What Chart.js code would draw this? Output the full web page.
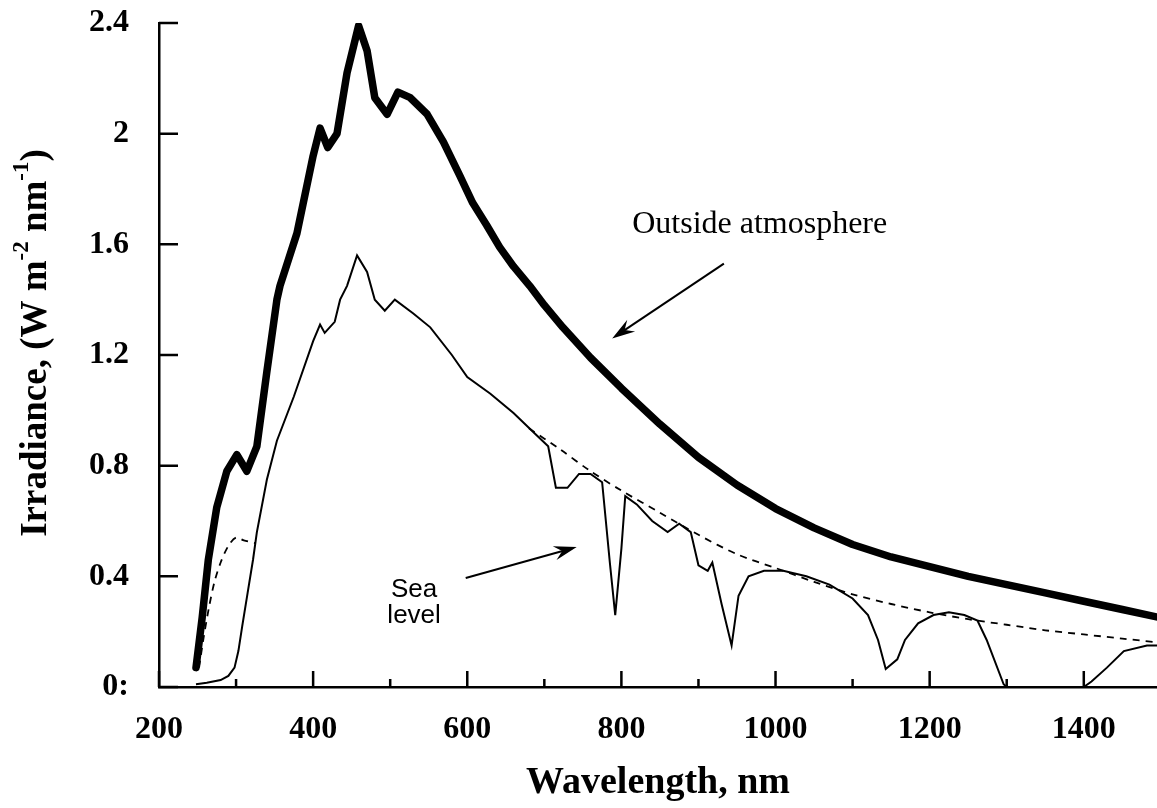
<!DOCTYPE html>
<html>
<head>
<meta charset="utf-8">
<title>Solar irradiance</title>
<script src="https://cdn.jsdelivr.net/npm/chart.js@4.4.0/dist/chart.umd.min.js"></script>
<style>
	html, body { margin: 0; padding: 0; background: #fff; }
	#spectrum { display: block; }
</style>
</head>
<body>
<canvas id="spectrum" width="1157" height="808"></canvas>
<script>
// outside the atmosphere (thick curve)
var toaWavelength = [248, 256, 264, 275, 288, 301, 314, 327, 340, 353, 357, 379, 400, 409, 419, 431, 444, 459, 470, 480, 496, 510, 526, 548, 569, 590, 607, 625, 642, 660, 681, 700, 724, 760, 800, 850, 900, 950, 1000, 1050, 1100, 1150, 1200, 1250, 1300, 1350, 1400, 1450, 1500];
var toaIrradiance = [0.07, 0.25, 0.46, 0.65, 0.78, 0.84, 0.78, 0.87, 1.14, 1.40, 1.45, 1.64, 1.92, 2.02, 1.95, 2.00, 2.22, 2.39, 2.30, 2.13, 2.07, 2.15, 2.13, 2.07, 1.97, 1.85, 1.75, 1.67, 1.59, 1.52, 1.45, 1.38, 1.30, 1.19, 1.08, 0.95, 0.83, 0.73, 0.645, 0.575, 0.515, 0.47, 0.435, 0.40, 0.37, 0.34, 0.31, 0.28, 0.25];

// sea level (thin curve, with absorption bands)
var seaWavelength = [248, 262, 280, 290, 298, 303, 308, 315, 322, 327, 340, 353, 375, 400, 409, 415, 428, 435, 444, 457, 470, 480, 493, 506, 530, 552, 580, 600, 630, 660, 690, 705, 715, 730, 745, 760, 775, 785, 792, 800, 805, 820, 840, 860, 875, 890, 900, 912, 918, 930, 943, 952, 965, 985, 1010, 1040, 1070, 1100, 1120, 1133, 1143, 1158, 1168, 1185, 1205, 1225, 1245, 1262, 1274, 1296, 1300, 1400, 1410, 1430, 1452, 1482, 1500];
var seaIrradiance = [0.01, 0.015, 0.025, 0.04, 0.07, 0.13, 0.22, 0.34, 0.46, 0.56, 0.75, 0.89, 1.05, 1.25, 1.31, 1.28, 1.32, 1.40, 1.45, 1.56, 1.50, 1.40, 1.36, 1.40, 1.35, 1.30, 1.20, 1.12, 1.06, 0.99, 0.91, 0.87, 0.72, 0.72, 0.77, 0.77, 0.74, 0.45, 0.26, 0.50, 0.69, 0.66, 0.60, 0.56, 0.59, 0.56, 0.44, 0.42, 0.45, 0.30, 0.15, 0.33, 0.40, 0.42, 0.42, 0.40, 0.37, 0.32, 0.26, 0.17, 0.065, 0.10, 0.17, 0.23, 0.26, 0.27, 0.26, 0.24, 0.17, 0.01, 0, 0, 0.02, 0.07, 0.13, 0.15, 0.15];

// sea level without absorption bands (dashed); null breaks it where it runs under the thin curve
var clearWavelength = [252, 258, 265, 272, 280, 290, 300, 310, 325, 500, 680, 720, 760, 800, 850, 900, 950, 1000, 1050, 1100, 1150, 1200, 1250, 1300, 1350, 1400, 1450, 1500];
var clearIrradiance = [0.07, 0.18, 0.29, 0.38, 0.45, 0.51, 0.54, 0.53, 0.52, null, 0.935, 0.86, 0.78, 0.71, 0.63, 0.55, 0.48, 0.43, 0.38, 0.335, 0.30, 0.27, 0.245, 0.225, 0.205, 0.19, 0.175, 0.16];

var xMajorTicks = [200, 400, 600, 800, 1000, 1200, 1400];
var xMinorTicks = [300, 500, 700, 900, 1100, 1300];
var yTicks = [0, 0.4, 0.8, 1.2, 1.6, 2, 2.4];
var yTickLabels = ['0:', '0.4', '0.8', '1.2', '1.6', '2', '2.4'];

function toPoints(xs, ys) {
	return xs.map(function (x, i) { return { x: x, y: ys[i] }; });
}

var serif = '"Liberation Serif", "Times New Roman", serif';
var sans = '"Liberation Sans", Arial, sans-serif';

// ticks point into the plot, so they are drawn here instead of by the scales
var inwardTicks = {
	id: 'inwardTicks',
	afterDatasetsDraw: function (chart) {
		var ctx = chart.ctx, xs = chart.scales.x, ys = chart.scales.y;
		ctx.save();
		ctx.strokeStyle = '#000';
		ctx.lineWidth = 2.5;
		ctx.beginPath();
		xMajorTicks.forEach(function (v) {
			var px = xs.getPixelForValue(v);
			ctx.moveTo(px, ys.bottom);
			ctx.lineTo(px, ys.bottom - 16);
		});
		xMinorTicks.forEach(function (v) {
			var px = xs.getPixelForValue(v);
			ctx.moveTo(px, ys.bottom);
			ctx.lineTo(px, ys.bottom - 8);
		});
		yTicks.forEach(function (v) {
			var py = ys.getPixelForValue(v);
			ctx.moveTo(xs.left, py);
			ctx.lineTo(xs.left + 19, py);
		});
		ctx.stroke();
		ctx.restore();
	}
};

// y title with superscripts
var yTitle = {
	id: 'yTitle',
	afterDraw: function (chart) {
		var ctx = chart.ctx, ys = chart.scales.y;
		var big = 'bold 37px ' + serif, small = 'bold 23px ' + serif;
		var parts = [
			{ t: 'Irradiance, (W m', f: big, dy: 0 },
			{ t: '-2', f: small, dy: -14 },
			{ t: ' nm', f: big, dy: 0 },
			{ t: '-1', f: small, dy: -14 },
			{ t: ')', f: big, dy: 0 }
		];
		ctx.save();
		var total = 0;
		parts.forEach(function (p) { ctx.font = p.f; p.w = ctx.measureText(p.t).width; total += p.w; });
		ctx.translate(36, (ys.top + ys.bottom) / 2 - 12);
		ctx.rotate(-Math.PI / 2);
		ctx.fillStyle = '#000';
		ctx.textBaseline = 'middle';
		var x = -total / 2;
		parts.forEach(function (p) {
			ctx.font = p.f;
			ctx.fillText(p.t, x, p.dy);
			x += p.w;
		});
		ctx.restore();
	}
};

// labels and arrows, placed in data units
var notes = [
	{ text: ['Outside atmosphere'], at: [814, 1.67], font: '32px ' + serif, align: 'left', lineGap: 0 },
	{ text: ['Sea', 'level'], at: [531, 0.35], font: '26px ' + sans, align: 'center', lineGap: 26 }
];
var arrows = [
	{ from: [933, 1.53], to: [788, 1.26] },
	{ from: [598, 0.394], to: [742, 0.506] }
];

function drawArrow(ctx, x1, y1, x2, y2) {
	var a = Math.atan2(y2 - y1, x2 - x1);
	var len = 24, wing = 0.3;
	ctx.beginPath();
	ctx.moveTo(x1, y1);
	ctx.lineTo(x2 - Math.cos(a) * 10, y2 - Math.sin(a) * 10);
	ctx.stroke();
	ctx.beginPath();
	ctx.moveTo(x2, y2);
	ctx.lineTo(x2 - len * Math.cos(a - wing), y2 - len * Math.sin(a - wing));
	ctx.lineTo(x2 - 15 * Math.cos(a), y2 - 15 * Math.sin(a));
	ctx.lineTo(x2 - len * Math.cos(a + wing), y2 - len * Math.sin(a + wing));
	ctx.closePath();
	ctx.fill();
}

var annotations = {
	id: 'annotations',
	afterDraw: function (chart) {
		var ctx = chart.ctx, xs = chart.scales.x, ys = chart.scales.y;
		ctx.save();
		ctx.fillStyle = '#000';
		ctx.strokeStyle = '#000';
		ctx.lineWidth = 2;
		notes.forEach(function (n) {
			ctx.font = n.font;
			ctx.textAlign = n.align;
			ctx.textBaseline = 'middle';
			var px = xs.getPixelForValue(n.at[0]), py = ys.getPixelForValue(n.at[1]);
			n.text.forEach(function (line, i) { ctx.fillText(line, px, py + i * n.lineGap); });
		});
		arrows.forEach(function (a) {
			drawArrow(ctx,
				xs.getPixelForValue(a.from[0]), ys.getPixelForValue(a.from[1]),
				xs.getPixelForValue(a.to[0]), ys.getPixelForValue(a.to[1]));
		});
		ctx.restore();
	}
};

var spectrum = document.getElementById('spectrum').getContext('2d');
var spectrumConfig = {
	type: 'line',
	data: {
		datasets: [{
			label: 'Outside atmosphere',
			data: toPoints(toaWavelength, toaIrradiance),
			borderColor: '#000',
			borderWidth: 7.5,
			borderJoinStyle: 'round',
			borderCapStyle: 'round',
			pointRadius: 0,
			tension: 0
		}, {
			label: 'Sea level',
			data: toPoints(seaWavelength, seaIrradiance),
			borderColor: '#000',
			borderWidth: 2,
			pointRadius: 0,
			tension: 0
		}, {
			label: 'Sea level, no absorption',
			data: toPoints(clearWavelength, clearIrradiance),
			borderColor: '#000',
			borderWidth: 1.8,
			borderDash: [7, 6],
			pointRadius: 0,
			spanGaps: false,
			tension: 0.3
		}]
	},
	options: {
		responsive: false,
		animation: false,
		devicePixelRatio: 1,
		layout: { padding: { top: 23, right: 0, bottom: 0, left: 0 } },
		plugins: {
			legend: { display: false },
			tooltip: { enabled: false }
		},
		scales: {
			x: {
				type: 'linear',
				min: 200,
				max: 1495,
				afterBuildTicks: function (axis) {
					axis.ticks = xMajorTicks.map(function (v) { return { value: v }; });
				},
				afterFit: function (axis) {
					axis.height = 121;
					axis.paddingLeft = 0;
					axis.paddingRight = 0;
				},
				grid: { display: true, drawOnChartArea: false, drawTicks: false },
				border: { display: true, color: '#000', width: 2.5 },
				ticks: {
					padding: 24,
					maxRotation: 0,
					color: '#000',
					font: { family: serif, size: 32, weight: 'bold' },
					callback: function (v) { return String(v); }
				},
				title: {
					display: true,
					text: 'Wavelength, nm',
					color: '#000',
					font: { family: serif, size: 38, weight: 'bold' },
					padding: { top: 0, bottom: 2 }
				}
			},
			y: {
				min: 0,
				max: 2.4,
				afterBuildTicks: function (axis) {
					axis.ticks = yTicks.map(function (v) { return { value: v }; });
				},
				afterFit: function (axis) {
					axis.width = 159;
					axis.paddingTop = 0;
					axis.paddingBottom = 0;
				},
				grid: { display: true, drawOnChartArea: false, drawTicks: false },
				border: { display: true, color: '#000', width: 2.5 },
				ticks: {
					padding: 30,
					color: '#000',
					font: { family: serif, size: 32, weight: 'bold' },
					callback: function (v, i) { return yTickLabels[i]; }
				}
			}
		}
	},
	plugins: [inwardTicks, yTitle, annotations]
};
var mySpectrum = new Chart(spectrum, spectrumConfig);
</script>
</body>
</html>
